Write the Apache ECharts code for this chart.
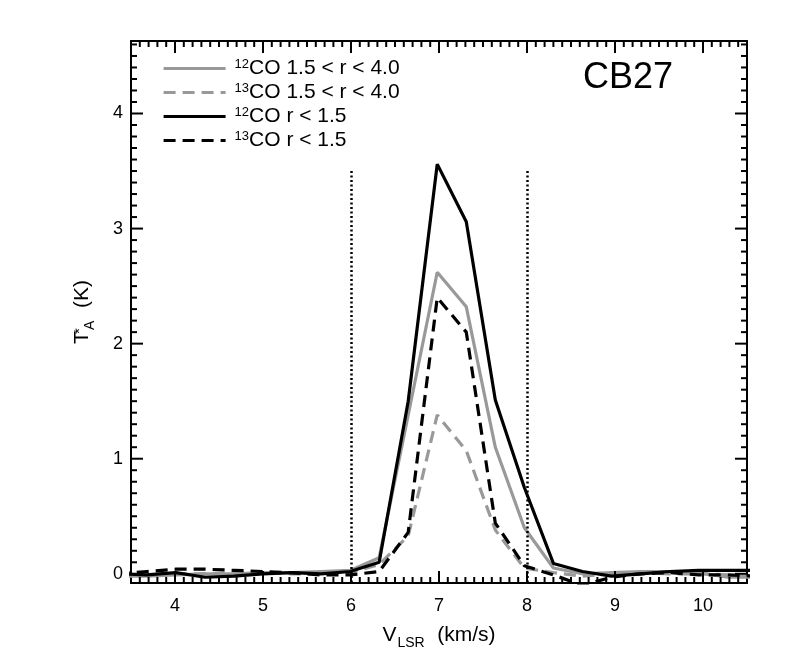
<!DOCTYPE html>
<html>
<head>
<meta charset="utf-8">
<script src="https://cdn.jsdelivr.net/npm/echarts@6/dist/echarts.min.js"></script>
<style>html,body{margin:0;background:#fff}#c{width:786px;height:668px}</style>
</head>
<body>
<div id="c"></div>
<script>
// channel velocities (km/s)
const vel = [3.35, 3.68, 4.01, 4.34, 4.67, 5.00, 5.33, 5.66, 5.99, 6.32, 6.65, 6.98, 7.31, 7.64, 7.97, 8.30, 8.63, 8.96, 9.29, 9.62, 9.95, 10.28, 10.61];
// antenna temperature T*A (K)
const co12Outer = [-0.02, -0.02, -0.01, 0.00, 0.00, 0.01, 0.01, 0.02, 0.03, 0.14, 1.38, 2.62, 2.32, 1.10, 0.40, 0.05, 0.00, 0.01, 0.02, 0.02, 0.01, -0.03, -0.03];
const co13Outer = [-0.01, -0.01, 0.00, 0.00, 0.01, 0.01, 0.00, 0.00, 0.01, 0.08, 0.33, 1.38, 1.07, 0.38, 0.05, 0.01, -0.02, 0.00, 0.01, 0.00, 0.00, -0.01, -0.03];
const co12Inner = [0.00, -0.01, 0.01, -0.03, -0.02, 0.00, 0.01, 0.00, 0.02, 0.10, 1.50, 3.56, 3.06, 1.51, 0.75, 0.09, 0.02, -0.02, 0.00, 0.02, 0.03, 0.03, 0.03];
const co13Inner = [0.00, 0.02, 0.04, 0.04, 0.03, 0.02, 0.01, -0.01, -0.01, 0.02, 0.36, 2.40, 2.10, 0.44, 0.07, -0.01, -0.10, -0.03, 0.00, 0.01, -0.01, -0.01, -0.02];
const names = ["12CO 1.5 < r < 4.0", "13CO 1.5 < r < 4.0", "12CO r < 1.5", "13CO r < 1.5"];
const vMarks = [6, 8];
const vMarkTop = 3.5;
const xRange = [3.5, 10.5];
const yRange = [-0.08, 4.63];

const GRAY = "#999999", FONT = "Liberation Sans";
// tick positions every 0.1, long ones on whole numbers
const steps = (a, b) => { const r = []; for (let i = Math.ceil(a * 10); i <= Math.floor(b * 10); i++) r.push(i / 10); return r; };
const tickLen = v => (Math.abs(v - Math.round(v)) < 1e-9 ? 12 : 6);
const xTicks = steps(xRange[0] + 0.01, xRange[1] - 0.01);
const yTicks = steps(yRange[0] + 0.01, yRange[1] - 0.01);

function frameAxis(pos, range, extra) {
  return Object.assign({
    type: "value", position: pos, min: range[0], max: range[1],
    minInterval: 1, maxInterval: 1,
    splitLine: { show: false },
    axisLine: { show: true, onZero: false, lineStyle: { color: "#000", width: 2 } },
    axisTick: { show: false },
    axisLabel: { show: false },
  }, extra || {});
}
const lbl = { show: true, showMinLabel: false, showMaxLabel: false, color: "#000", fontFamily: FONT, fontSize: 18 };
const nameRich = {
  m: { fontFamily: FONT, fontSize: 21, lineHeight: 21, verticalAlign: "top", color: "#000" },
  sub: { fontFamily: FONT, fontSize: 14, lineHeight: 14, padding: [11, 1, 0, 1], verticalAlign: "top", color: "#000" },
  st: { fontFamily: FONT, fontSize: 15, lineHeight: 15, width: 0, verticalAlign: "top", color: "#000" },
};

const line = (name, data, color, dashed) => ({
  name, type: "line", data: vel.map((v, i) => [v, data[i]]), symbol: "none", z: 3,
  lineStyle: { color, width: 3.2, type: dashed ? [12, 7] : "solid" }, itemStyle: { color },
});

// inward ticks on both opposite sides of the frame, placed through the axes' scales
const tk = { stroke: "#000", lineWidth: 2 };
const tickSeries = (vals, isX) => ({
  type: "custom", silent: true, clip: false, z: 5,
  encode: { x: 0, y: 1 },
  data: vals.map(v => (isX ? [v, yRange[0]] : [xRange[0], v])),
  renderItem: (params, api) => {
    const v = api.value(isX ? 0 : 1), L = tickLen(v);
    const a = api.coord(isX ? [v, yRange[0]] : [xRange[0], v]);
    const b = api.coord(isX ? [v, yRange[1]] : [xRange[1], v]);
    const seg = (p, dx, dy) => ({ type: "line", shape: { x1: p[0], y1: p[1], x2: p[0] + dx, y2: p[1] + dy }, style: tk });
    return { type: "group", children: isX ? [seg(a, 0, -L), seg(b, 0, L)] : [seg(a, L, 0), seg(b, -L, 0)] };
  },
});

const chart = echarts.init(document.getElementById("c"));
const s3 = line(names[2], co12Inner, "#000", false);
s3.markLine = {
  silent: true, symbol: "none", label: { show: false },
  lineStyle: { color: "#000", width: 2.5, type: [2, 2.5] },
  data: vMarks.map(v => [{ coord: [v, vMarkTop] }, { coord: [v, yRange[0]] }]),
};

chart.setOption({
  animation: false,
  backgroundColor: "#fff",
  grid: { left: 131, right: 39, top: 41, bottom: 85 },
  xAxis: [
    frameAxis("bottom", xRange, {
      axisLabel: Object.assign({ margin: 14 }, lbl),
      name: "{m|V}{sub|LSR}{m|  (km/s)}", nameLocation: "middle", nameGap: 42,
      nameTextStyle: { rich: nameRich },
    }),
    frameAxis("top", xRange),
  ],
  yAxis: [
    frameAxis("left", yRange, {
      axisLabel: Object.assign({ margin: 8 }, lbl),
      name: "{m|T}{st|*}{sub|A}{m|  (K)}", nameLocation: "middle", nameGap: 38, nameRotate: 90,
      nameTextStyle: { rich: nameRich },
    }),
    frameAxis("right", yRange),
  ],
  legend: {
    left: 157, top: 53, orient: "vertical", itemWidth: 62, itemHeight: 14, itemGap: 3,
    data: names,
    itemStyle: { opacity: 0 },
    lineStyle: { width: 3.2 },
    formatter: n => n.replace(/^(\d+)(.*)$/, "{sup|$1}{t|$2}"),
    textStyle: {
      padding: [0, 0, 0, 4],
      rich: {
        t: { fontFamily: FONT, fontSize: 21, lineHeight: 21, verticalAlign: "top", color: "#000" },
        sup: { fontFamily: FONT, fontSize: 13, lineHeight: 13, verticalAlign: "top", color: "#000" },
      },
    },
  },
  graphic: [{ type: "text", left: 583, top: 60, style: { text: "CB27", fontFamily: FONT, fontSize: 36, fill: "#000" } }],
  series: [
    line(names[0], co12Outer, GRAY, false),
    line(names[1], co13Outer, GRAY, true),
    s3,
    line(names[3], co13Inner, "#000", true),
    tickSeries(xTicks, true),
    tickSeries(yTicks, false),
  ],
});
</script>
</body>
</html>
